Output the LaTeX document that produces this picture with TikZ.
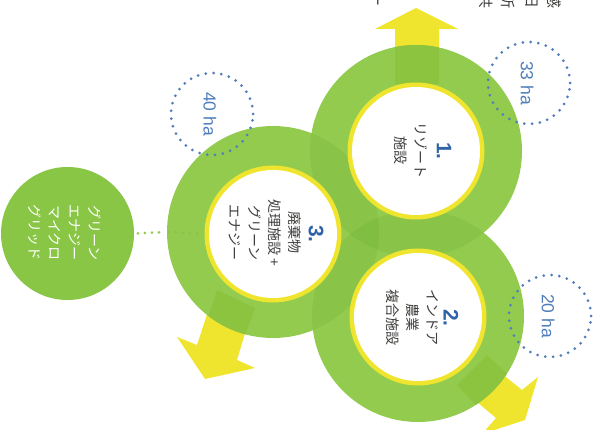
\documentclass[tikz,border=0pt]{standalone}
\usepackage{fontspec}
\setmainfont{Liberation Sans}
\newfontfamily\cjk{Noto Sans CJK JP}
\definecolor{gr}{HTML}{93CB4E}
\definecolor{grov}{HTML}{89C449}
\definecolor{grtri}{HTML}{80BD43}
\definecolor{grsm}{HTML}{89C645}
\definecolor{gry}{HTML}{8DC43F}
\definecolor{yel}{HTML}{F0E52E}
\definecolor{blu}{HTML}{4F7DBB}
\definecolor{numb}{HTML}{2F63A8}
\definecolor{ink}{HTML}{3E3E3C}
\tikzset{
  x=1pt,y=-1pt,
  disc/.style={circle,inner sep=0pt,outer sep=0pt,draw=none},
  greendisc/.style={disc,fill=gr,minimum size=212pt},
  ringdisc/.style={disc,fill=yel,minimum size=137pt},
  whitedisc/.style={disc,fill=white,minimum size=128pt},
  dotring/.style={disc,draw=blu,line width=3pt,line cap=round,dash pattern=on 0pt off 7.85pt,minimum size=82pt},
  arrowshape/.style={fill=yel,draw=none},
  arrowover/.style={fill=gry,draw=none},
  lbl/.style={rotate=-90,align=center,text=ink,inner sep=0pt,font=\cjk\fontsize{14}{20}\selectfont},
  lblw/.style={lbl,text=white,font=\cjk\fontsize{14}{20}\selectfont},
  num/.style={rotate=-90,text=numb,inner sep=0pt,font=\bfseries\fontsize{21}{22}\selectfont},
  area/.style={rotate=-90,text=blu,inner sep=0pt,font=\fontsize{17.5}{20}\selectfont},
  stray/.style={rotate=-90,text=ink,inner sep=0pt,font=\cjk\fontsize{15}{15}\selectfont},
}
\begin{document}
\begin{tikzpicture}
\useasboundingbox (0,0) rectangle (594,430);
\fill[white] (0,0) rectangle (594,430);
% arrows under the discs
\fill[arrowshape] (395,90) -- (395,29) -- (375,29) -- (416,8) -- (458,29) -- (439,29) -- (439,90) -- cycle;
\fill[arrowshape] (470,348) -- (522,390) -- (538,377) -- (525,420) -- (482,434) -- (496,418) -- (445,375) -- cycle;
\fill[arrowshape] (215,290) -- (197,345) -- (177,337) -- (205,379) -- (255,368) -- (237,360) -- (255,300) -- cycle;
% green discs
\node[greendisc] (g1) at (416,151) {};
\node[greendisc] (g2) at (418,316) {};
\node[greendisc] (g3) at (273,232) {};
% overlaps
\begin{scope}
\clip (418,316) circle[radius=106];
\fill[grov] (273,232) circle[radius=106];
\fill[arrowover] (457,385) -- (487,355) -- (530,395) -- (500,430) -- cycle;
\end{scope}
\begin{scope}
\clip (416,151) circle[radius=106];
\fill[grov] (418,316) circle[radius=106];
\fill[grov] (273,232) circle[radius=106];
\fill[arrowover] (395,30) rectangle (439,84);
\begin{scope}
\clip (418,316) circle[radius=106];
\fill[grtri] (273,232) circle[radius=106];
\end{scope}
\end{scope}
\begin{scope}
\clip (273,232) circle[radius=106];
\fill[arrowover] (217,290) -- (255,308) -- (240,350) -- (202,335) -- cycle;
\end{scope}
% rings and white centres
\node[ringdisc] (r1) at (416,151) {};
\node[ringdisc] (r2) at (418,317) {};
\node[ringdisc] (r3) at (273,234) {};
\node[whitedisc] (w1) at (416,151) {};
\node[whitedisc] (w2) at (418,317) {};
\node[whitedisc] (w3) at (273,234) {};
% green grid disc and its connector
\node[disc,fill=grsm,minimum size=133pt] (sm) at (67.5,233.5) {};
\draw[draw=gr,line width=3pt,line cap=round,dash pattern=on 0pt off 7pt,shorten >=2pt,shorten <=4pt] (sm.east) -- (g3.west);
\draw[draw=grov,line width=3pt,line cap=round,dash pattern=on 0pt off 7pt,shorten >=4pt,shorten <=2pt] (g3.west) -- (r3.west);
% area rings
\node[dotring] (d1) at (529,83) {};
\node[dotring] (d2) at (550,316) {};
\node[dotring] (d3) at (212,114) {};
\node[area] (a1) at (527,83) {33 ha};
\node[area] (a2) at (548,316) {20 ha};
\node[area] (a3) at (210,114) {40 ha};
% labels
\node[num] (n1) at (444,151) {1.};
\node[lbl] (t1) at (411,151) {リゾート\\施設};
\node[num] (n2) at (451,318) {2.};
\node[lbl] (t2) at (412,317) {インドア\\農業\\複合施設};
\node[num] (n3) at (316,234) {3.};
\node[lbl] (t3) at (265,233) {廃棄物\\処理施設 +\\グリーン\\エナジー};
\node[lblw] (t4) at (65,233) {グリーン\\エナジー\\マイクロ\\グリッド};
% cropped text at the top edge
\node[stray] (s1) at (554,1) {感};
\node[stray] (s2) at (532,1) {日};
\node[stray] (s3) at (508,1) {所};
\node[stray] (s4) at (486,1) {共};
\node[stray] (s5) at (376,-1) {ー};
\end{tikzpicture}
\end{document}
